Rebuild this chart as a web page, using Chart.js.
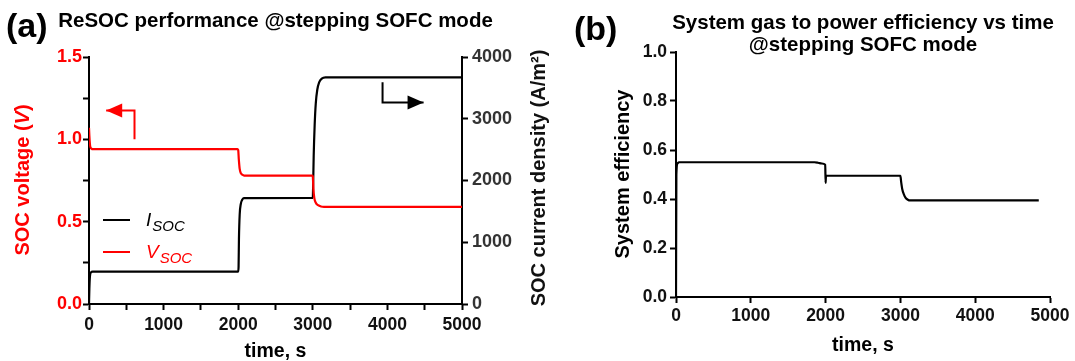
<!DOCTYPE html>
<html>
<head>
<meta charset="utf-8">
<script src="https://cdn.jsdelivr.net/npm/chart.js@4.4.1/dist/chart.umd.min.js"></script>
<style>
  body { margin: 0; background: #fff; }
  .panel { position: absolute; top: 0; height: 361px; }
  #panelA { left: 0; width: 560px; }
  #panelB { left: 560px; width: 515px; }
</style>
</head>
<body>
<div class="panel" id="panelA"><canvas id="socChart"></canvas></div>
<div class="panel" id="panelB"><canvas id="effChart"></canvas></div>
<script>
// (a) cell voltage, stepping SOFC load
const voltageTime = [0, 5, 15, 30, 60, 1990, 2000, 2008, 2020, 2035, 2055, 2080, 2995, 3000, 3008, 3020, 3040, 3070, 3110, 3150, 5000];
const socVoltage = [1.07, 1.02, 0.96, 0.945, 0.94, 0.94, 0.935, 0.88, 0.82, 0.795, 0.785, 0.78, 0.78, 0.775, 0.70, 0.645, 0.615, 0.60, 0.592, 0.59, 0.59];

// (a) cell current density
const currentTime = [0, 5, 12, 25, 50, 2000, 2005, 2010, 2020, 2035, 2050, 2075, 3000, 3005, 3012, 3025, 3040, 3060, 3085, 3120, 3170, 5000];
const socCurrent = [0, 250, 440, 510, 525, 525, 600, 1050, 1450, 1620, 1680, 1715, 1720, 1950, 2400, 2900, 3250, 3470, 3590, 3650, 3670, 3670];

// (b) system gas-to-power efficiency
const efficiencyTime = [0, 5, 20, 40, 1850, 1900, 1950, 1995, 2000, 2004, 2015, 3000, 3010, 3025, 3045, 3070, 3100, 3130, 4850];
const systemEfficiency = [0, 0.50, 0.545, 0.55, 0.55, 0.548, 0.545, 0.54, 0.466, 0.49, 0.495, 0.495, 0.47, 0.44, 0.42, 0.405, 0.397, 0.394, 0.394];

// axis hint arrows (a)
const voltArrowTime = [610, 610, 230];
const voltArrowValue = [1.0, 1.175, 1.175];
const currArrowTime = [3935, 3935, 4485];
const currArrowValue = [3590, 3265, 3265];

// tick labels
const timeTicks = [0, 1000, 2000, 3000, 4000, 5000];
const voltageTicks = [0, 0.5, 1.0, 1.5];
const currentTicks = [0, 1000, 2000, 3000, 4000];
const efficiencyTicks = [0, 0.2, 0.4, 0.6, 0.8, 1.0];

const FONT = "'Liberation Sans', Arial, sans-serif";
const RED = "#ff0000";

const toPoints = (xs, ys) => xs.map((x, i) => ({ x, y: ys[i] }));

const axisStyle = (color, size) => ({
  border: { color: "#000", width: 2 },
  grid: { drawOnChartArea: false, drawTicks: true, tickLength: 6, tickWidth: 2, tickColor: "#000" },
  ticks: { color, font: { family: FONT, size, weight: "bold" }, autoSkip: false, maxRotation: 0 },
});

// filled arrowhead at the last point of a dataset
const arrowHeads = {
  id: "arrowHeads",
  afterDatasetsDraw(chart) {
    const ctx = chart.ctx;
    chart.data.datasets.forEach((ds, i) => {
      if (!ds.arrowHead) return;
      const pts = chart.getDatasetMeta(i).data;
      const tip = pts[pts.length - 1];
      const prev = pts[pts.length - 2];
      const ang = Math.atan2(tip.y - prev.y, tip.x - prev.x);
      const len = 16, half = 7;
      ctx.save();
      ctx.fillStyle = ds.borderColor;
      ctx.translate(tip.x, tip.y);
      ctx.rotate(ang);
      ctx.beginPath();
      ctx.moveTo(0, 0);
      ctx.lineTo(-len, -half);
      ctx.lineTo(-len, half);
      ctx.closePath();
      ctx.fill();
      ctx.restore();
    });
  },
};

// draw a run of text pieces with different fonts, centred on (0,0)
function drawRuns(ctx, runs) {
  let total = 0;
  runs.forEach((r) => { ctx.font = r.font; r.w = ctx.measureText(r.text).width; total += r.w; });
  let x = -total / 2;
  runs.forEach((r) => {
    ctx.font = r.font;
    ctx.fillStyle = r.color;
    ctx.textAlign = "left";
    ctx.fillText(r.text, x, r.dy || 0);
    x += r.w;
  });
}

function rotatedLabel(ctx, cx, cy, runs) {
  ctx.save();
  ctx.translate(cx, cy);
  ctx.rotate(-Math.PI / 2);
  ctx.textBaseline = "middle";
  drawRuns(ctx, runs);
  ctx.restore();
}

const legendEntries = [
  { symbol: "I", sub: "SOC", color: "#000000" },
  { symbol: "V", sub: "SOC", color: RED },
];

const panelAText = {
  id: "panelAText",
  afterDraw(chart) {
    const { ctx, chartArea: a } = chart;
    const cx = (a.left + a.right) / 2;
    ctx.save();
    ctx.fillStyle = "#000";
    ctx.textBaseline = "middle";
    ctx.textAlign = "left";
    ctx.font = `bold 34px ${FONT}`;
    ctx.fillText("(a)", 6, 28);
    ctx.textAlign = "center";
    ctx.font = `bold 20.5px ${FONT}`;
    ctx.fillText("ReSOC performance @stepping SOFC mode", cx, 21);
    ctx.textBaseline = "alphabetic";
    ctx.font = `bold 19.5px ${FONT}`;
    ctx.fillText("time, s", cx, 357);
    ctx.restore();

    const bold = `bold 20px ${FONT}`;
    rotatedLabel(ctx, 23, 180, [
      { text: "SOC voltage (", font: bold, color: RED },
      { text: "V", font: `italic bold 20px ${FONT}`, color: RED },
      { text: ")", font: bold, color: RED },
    ]);
    rotatedLabel(ctx, 539, 178, [
      { text: "SOC current density (A/m²)", font: bold, color: "#111" },
    ]);

    // series key with subscripts
    ctx.save();
    legendEntries.forEach((e, i) => {
      const y = a.top + 163 + i * 32;
      ctx.strokeStyle = e.color;
      ctx.lineWidth = 2;
      ctx.beginPath();
      ctx.moveTo(a.left + 14, y);
      ctx.lineTo(a.left + 41, y);
      ctx.stroke();
      ctx.fillStyle = e.color;
      ctx.textAlign = "left";
      ctx.textBaseline = "alphabetic";
      ctx.font = `italic 19px ${FONT}`;
      const sx = a.left + 57;
      ctx.fillText(e.symbol, sx, y + 6);
      const w = ctx.measureText(e.symbol).width;
      ctx.font = `italic 15px ${FONT}`;
      ctx.fillText(e.sub, sx + w + 1, y + 11);
    });
    ctx.restore();
  },
};

const panelBText = {
  id: "panelBText",
  afterDraw(chart) {
    const { ctx, chartArea: a } = chart;
    const cx = (a.left + a.right) / 2;
    ctx.save();
    ctx.fillStyle = "#000";
    ctx.textBaseline = "middle";
    ctx.textAlign = "left";
    ctx.font = `bold 34px ${FONT}`;
    ctx.fillText("(b)", 14, 31);
    ctx.textAlign = "center";
    ctx.font = `bold 20.5px ${FONT}`;
    ctx.fillText("System gas to power efficiency vs time", cx, 23);
    ctx.fillText("@stepping SOFC mode", cx, 45);
    ctx.textBaseline = "alphabetic";
    ctx.font = `bold 19.5px ${FONT}`;
    ctx.fillText("time, s", cx, 351);
    ctx.restore();
    rotatedLabel(ctx, 63, 174, [
      { text: "System efficiency", font: `bold 20px ${FONT}`, color: "#000" },
    ]);
  },
};

const socChart = document.getElementById("socChart");
new Chart(socChart, {
  type: "line",
  data: {
    datasets: [
      {
        label: "V_SOC",
        data: toPoints(voltageTime, socVoltage),
        yAxisID: "yV",
        borderColor: RED,
        borderWidth: 2.2,
        pointRadius: 0,
        cubicInterpolationMode: "monotone",
      },
      {
        label: "I_SOC",
        data: toPoints(currentTime, socCurrent),
        yAxisID: "yI",
        borderColor: "#000",
        borderWidth: 2.2,
        pointRadius: 0,
        cubicInterpolationMode: "monotone",
      },
      {
        label: "voltage axis",
        data: toPoints(voltArrowTime, voltArrowValue),
        yAxisID: "yV",
        borderColor: RED,
        borderWidth: 2,
        pointRadius: 0,
        tension: 0,
        arrowHead: true,
      },
      {
        label: "current axis",
        data: toPoints(currArrowTime, currArrowValue),
        yAxisID: "yI",
        borderColor: "#000",
        borderWidth: 2,
        pointRadius: 0,
        tension: 0,
        arrowHead: true,
      },
    ],
  },
  options: {
    responsive: true,
    maintainAspectRatio: false,
    animation: false,
    layout: { padding: { top: 57, left: 0, right: 0, bottom: 0 } },
    plugins: { legend: { display: false }, tooltip: { enabled: false }, title: { display: false } },
    scales: {
      x: {
        type: "linear",
        min: 0,
        max: 5000,
        ...axisStyle("#111", 17.5),
        ticks: {
          ...axisStyle("#111", 17.5).ticks,
          stepSize: 500,
          padding: 5,
          callback: (v) => (timeTicks.includes(v) ? String(v) : ""),
        },
        afterFit: (s) => { s.height = 57; },
      },
      yV: {
        position: "left",
        min: 0,
        max: 1.5,
        ...axisStyle(RED, 18),
        ticks: {
          ...axisStyle(RED, 18).ticks,
          stepSize: 0.25,
          padding: 1,
          callback: (v) => (voltageTicks.includes(v) ? v.toFixed(1) : ""),
        },
        afterFit: (s) => { s.width = 89; },
      },
      yI: {
        position: "right",
        min: 0,
        max: 4000,
        ...axisStyle("#333", 18),
        ticks: {
          ...axisStyle("#333", 18).ticks,
          stepSize: 1000,
          padding: 4,
          callback: (v) => (currentTicks.includes(v) ? String(v) : ""),
        },
        afterFit: (s) => { s.width = 98; },
      },
    },
  },
  plugins: [arrowHeads, panelAText],
});

const effChart = document.getElementById("effChart");
new Chart(effChart, {
  type: "line",
  data: {
    datasets: [
      {
        label: "System efficiency",
        data: toPoints(efficiencyTime, systemEfficiency),
        borderColor: "#000",
        borderWidth: 2.2,
        pointRadius: 0,
        cubicInterpolationMode: "monotone",
      },
    ],
  },
  options: {
    responsive: true,
    maintainAspectRatio: false,
    animation: false,
    layout: { padding: { top: 52, left: 0, right: 25, bottom: 0 } },
    plugins: { legend: { display: false }, tooltip: { enabled: false }, title: { display: false } },
    scales: {
      x: {
        type: "linear",
        min: 0,
        max: 5000,
        ...axisStyle("#111", 17.5),
        ticks: {
          ...axisStyle("#111", 17.5).ticks,
          stepSize: 1000,
          padding: 3,
          callback: (v) => (timeTicks.includes(v) ? String(v) : ""),
        },
        afterFit: (s) => { s.height = 64; },
      },
      y: {
        min: 0,
        max: 1,
        ...axisStyle("#111", 17.5),
        ticks: {
          ...axisStyle("#111", 17.5).ticks,
          stepSize: 0.2,
          padding: 3,
          callback: (v) => (efficiencyTicks.some((t) => Math.abs(t - v) < 1e-6) ? v.toFixed(1) : ""),
        },
        afterFit: (s) => { s.width = 116; },
      },
    },
  },
  plugins: [panelBText],
});
</script>
</body>
</html>
